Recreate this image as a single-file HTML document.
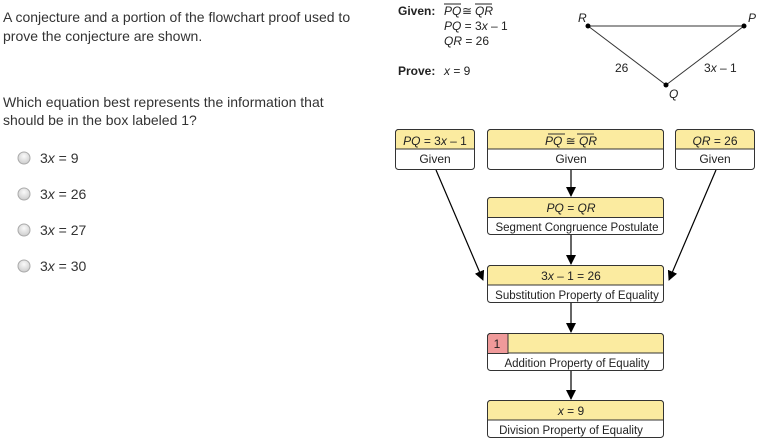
<!DOCTYPE html>
<html><head><meta charset="utf-8"><style>
html,body{margin:0;padding:0;background:#fff;}
svg{display:block;font-family:"Liberation Sans",Arial,sans-serif;}
</style></head><body>
<svg width="778" height="446" viewBox="0 0 778 446" xmlns="http://www.w3.org/2000/svg">
<defs>
<marker id="ah" markerWidth="10" markerHeight="10" refX="9" refY="5" orient="auto" markerUnits="userSpaceOnUse">
<path d="M0,0 L10,5 L0,10 z" fill="#000"/>
</marker>
<radialGradient id="rg" cx="50%" cy="35%" r="60%"><stop offset="0" stop-color="#fafafa"/><stop offset="1" stop-color="#d0d0d0"/></radialGradient>
</defs>
<g fill="#333" font-size="14">
<text x="3" y="22">A conjecture and a portion of the flowchart proof used to</text>
<text x="3" y="41">prove the conjecture are shown.</text>
<text x="3" y="107">Which equation best represents the information that</text>
<text x="3" y="125">should be in the box labeled 1?</text>
</g>
<g stroke="#aaa" fill="url(#rg)">
<circle cx="24" cy="158" r="6"/><circle cx="24" cy="194" r="6"/><circle cx="24" cy="230" r="6"/><circle cx="24" cy="266" r="6"/>
</g>
<g fill="#333" font-size="14">
<text x="40" y="163">3<tspan font-style="italic">x</tspan> = 9</text>
<text x="40" y="199">3<tspan font-style="italic">x</tspan> = 26</text>
<text x="40" y="235">3<tspan font-style="italic">x</tspan> = 27</text>
<text x="40" y="271">3<tspan font-style="italic">x</tspan> = 30</text>
</g>
<g font-size="12" fill="#222">
<text x="398" y="15" font-weight="bold">Given:</text>
<text x="444" y="15" font-style="italic">PQ</text><text x="462" y="15">≅</text><text x="475" y="15" font-style="italic">QR</text>
<line x1="444" y1="4" x2="461" y2="4" stroke="#222"/><line x1="475" y1="4" x2="492" y2="4" stroke="#222"/>
<text x="444" y="30"><tspan font-style="italic">PQ</tspan> = 3<tspan font-style="italic">x</tspan> – 1</text>
<text x="444" y="45"><tspan font-style="italic">QR</tspan> = 26</text>
<text x="398" y="75" font-weight="bold">Prove:</text>
<text x="444" y="75"><tspan font-style="italic">x</tspan> = 9</text>
</g>
<g stroke="#333" stroke-width="1">
<line x1="588" y1="26" x2="744" y2="26"/><line x1="588" y1="26" x2="666" y2="85"/><line x1="744" y1="26" x2="666" y2="85"/>
</g>
<g fill="#000"><circle cx="588" cy="26" r="2.5"/><circle cx="744" cy="26" r="2.5"/><circle cx="666" cy="85" r="2.5"/></g>
<g font-size="12" fill="#222">
<text x="578" y="22" font-style="italic">R</text>
<text x="748" y="22" font-style="italic">P</text>
<text x="669" y="98" font-style="italic">Q</text>
<text x="615" y="72">26</text>
<text x="704" y="72">3<tspan font-style="italic">x</tspan> – 1</text>
</g>
<g stroke="#000" stroke-width="1.2" marker-end="url(#ah)">
<line x1="571" y1="169" x2="571" y2="196"/>
<line x1="571" y1="234" x2="571" y2="264"/>
<line x1="571" y1="302" x2="571" y2="332"/>
<line x1="571" y1="370" x2="571" y2="399"/>
<line x1="436" y1="170" x2="483" y2="280"/>
<line x1="716" y1="170" x2="669" y2="280"/>
</g>
<g stroke="#333" stroke-width="1" font-size="12" fill="#222" text-anchor="middle">
<rect x="395.5" y="129.5" width="79" height="40" rx="3" fill="#fff"/>
<path d="M398.5,129.5 h73 a3,3 0 0 1 3,3 v16.5 h-79 v-16.5 a3,3 0 0 1 3,-3z" fill="#fbeba0"/>
<text x="435" y="145" stroke="none"><tspan font-style="italic">PQ</tspan> = 3<tspan font-style="italic">x</tspan> – 1</text>
<text x="435" y="163" stroke="none">Given</text>

<rect x="487.5" y="129.5" width="176" height="40" rx="3" fill="#fff"/>
<path d="M490.5,129.5 h170 a3,3 0 0 1 3,3 v16.5 h-176 v-16.5 a3,3 0 0 1 3,-3z" fill="#fbeba0"/>
<text x="571" y="145" stroke="none"><tspan font-style="italic">PQ</tspan> ≅ <tspan font-style="italic">QR</tspan></text>
<line x1="548" y1="134" x2="565" y2="134"/><line x1="577" y1="134" x2="594" y2="134"/>
<text x="571" y="163" stroke="none">Given</text>

<rect x="675.5" y="129.5" width="79" height="40" rx="3" fill="#fff"/>
<path d="M678.5,129.5 h73 a3,3 0 0 1 3,3 v16.5 h-79 v-16.5 a3,3 0 0 1 3,-3z" fill="#fbeba0"/>
<text x="715" y="145" stroke="none"><tspan font-style="italic">QR</tspan> = 26</text>
<text x="715" y="163" stroke="none">Given</text>

<rect x="487.5" y="197.5" width="176" height="37" rx="3" fill="#fff"/>
<path d="M490.5,197.5 h170 a3,3 0 0 1 3,3 v17 h-176 v-17 a3,3 0 0 1 3,-3z" fill="#fbeba0"/>
<text x="571" y="212" stroke="none" font-style="italic">PQ = QR</text>
<text x="577" y="231" stroke="none" font-size="11.5">Segment Congruence Postulate</text>

<rect x="487.5" y="265.5" width="176" height="37" rx="3" fill="#fff"/>
<path d="M490.5,265.5 h170 a3,3 0 0 1 3,3 v16.5 h-176 v-16.5 a3,3 0 0 1 3,-3z" fill="#fbeba0"/>
<text x="571" y="280" stroke="none">3<tspan font-style="italic">x</tspan> – 1 = 26</text>
<text x="577" y="299" stroke="none" font-size="11.5">Substitution Property of Equality</text>

<rect x="487.5" y="333.5" width="176" height="37" rx="3" fill="#fff"/>
<path d="M490.5,333.5 h170 a3,3 0 0 1 3,3 v16.5 h-176 v-16.5 a3,3 0 0 1 3,-3z" fill="#fbeba0"/>
<path d="M490.5,333.5 h17.5 v20 h-20.5 v-17 a3,3 0 0 1 3,-3z" fill="#ef9a9a"/>
<text x="497" y="348" stroke="none" font-size="12">1</text>
<text x="577" y="367" stroke="none" font-size="11.5">Addition Property of Equality</text>

<rect x="487.5" y="400.5" width="176" height="37" rx="3" fill="#fff"/>
<path d="M490.5,400.5 h170 a3,3 0 0 1 3,3 v16.5 h-176 v-16.5 a3,3 0 0 1 3,-3z" fill="#fbeba0"/>
<text x="571" y="415" stroke="none"><tspan font-style="italic">x</tspan> = 9</text>
<text x="571" y="434" stroke="none" font-size="11.5">Division Property of Equality</text>
</g>
</svg>
</body></html>
